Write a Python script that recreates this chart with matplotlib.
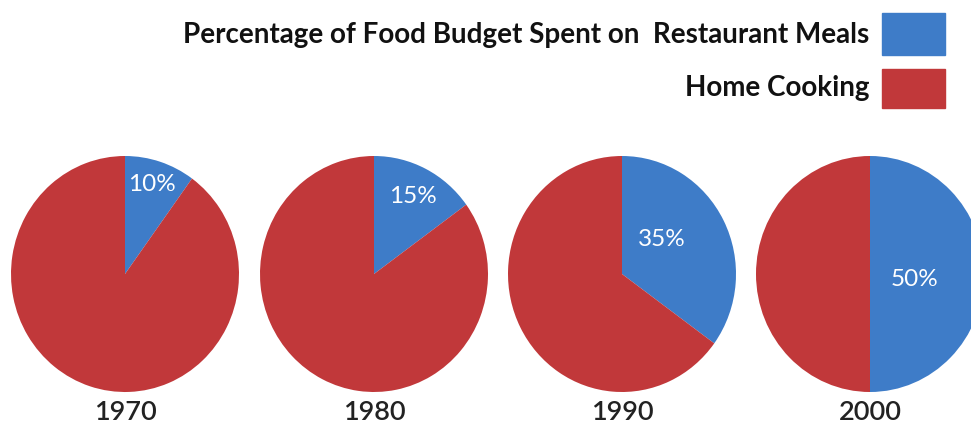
import matplotlib
matplotlib.use("Agg")
import matplotlib.pyplot as plt

# data
years = ["1970", "1980", "1990", "2000"]
restaurant = [10, 15, 35, 50]
home = [90, 85, 65, 50]
series_names = ["Percentage of Food Budget Spent on  Restaurant Meals", "Home Cooking"]

BLUE = "#3e7cc8"
RED = "#c1383a"
W, H = 971, 430

fig = plt.figure(figsize=(W / 100, H / 100), dpi=100)
fig.patch.set_facecolor("white")

# pie layout in pixels (center x, center y, radius x, radius y)
centers_x = [125, 374, 622, 870]
cy, rx, ry = 274, 114, 118
# label placement (fraction of radius, right / up from centre)
label_off = [(0.24, 0.76), (0.34, 0.66), (0.35, 0.29), (0.39, -0.05)]

for i, yr in enumerate(years):
    cx = centers_x[i]
    ax = fig.add_axes([(cx - rx) / W, 1 - (cy + ry) / H, 2 * rx / W, 2 * ry / H])
    ax.pie([restaurant[i], home[i]], colors=[BLUE, RED], startangle=90,
           counterclock=False, radius=1.0,
           wedgeprops=dict(linewidth=0))
    ax.set_aspect("auto")
    ax.set_xlim(-1, 1)
    ax.set_ylim(-1, 1)
    ax.axis("off")
    dx, dy = label_off[i]
    ax.text(dx, dy, f"{restaurant[i]}%", color="white", fontsize=17.5,
            family="Lato", ha="center", va="center")
    fig.text(cx / W, 1 - 413 / H, yr, fontsize=19.5, family="Lato",
             weight="semibold", color="#222222", ha="center", va="center")

# legend
fig.text(869 / W, 1 - 35 / H, series_names[0], fontsize=20, family="Lato",
         weight="bold", color="#111111", ha="right", va="center")
fig.text(869 / W, 1 - 88 / H, series_names[1], fontsize=20, family="Lato",
         weight="bold", color="#111111", ha="right", va="center")
fig.patches.append(plt.Rectangle((882 / W, 1 - 55 / H), 63 / W, 42 / H,
                                 transform=fig.transFigure, color=BLUE))
fig.patches.append(plt.Rectangle((882 / W, 1 - 108 / H), 63 / W, 39 / H,
                                 transform=fig.transFigure, color=RED))

fig.savefig("out.png", dpi=100)
